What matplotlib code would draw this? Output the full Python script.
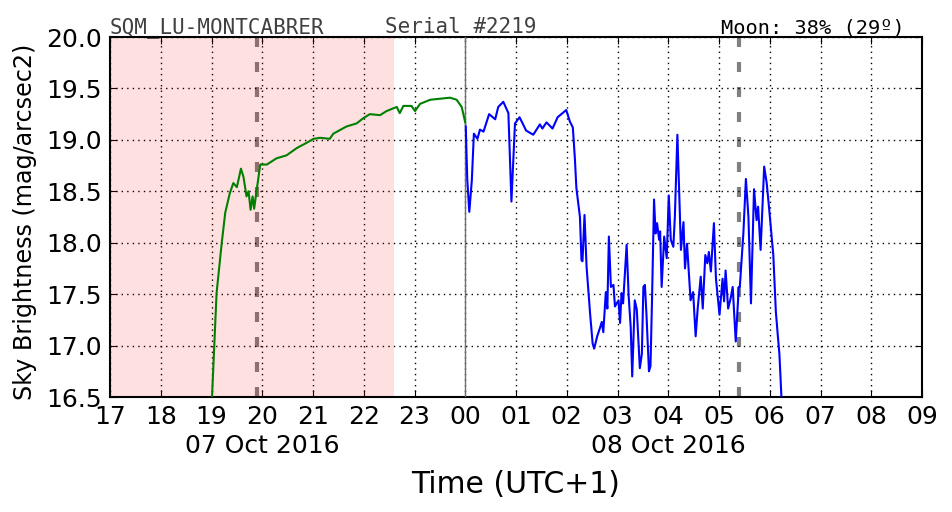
import matplotlib
matplotlib.use("Agg")
import matplotlib.pyplot as plt

# ---- data (hours since 00:00 of 07 Oct 2016, UTC+1) ----
green_t = [19.00, 19.01, 19.10, 19.20, 19.27, 19.36, 19.43, 19.50, 19.58, 19.63, 19.69, 19.73,
           19.77, 19.81, 19.84, 19.89, 19.96, 20.09, 20.28, 20.48, 20.68, 20.87, 21.01, 21.14,
           21.33, 21.40, 21.66, 21.86, 21.99, 22.12, 22.32, 22.45, 22.65, 22.71, 22.78, 22.94,
           23.01, 23.11, 23.31, 23.70, 23.83, 23.93, 24.00]
green_v = [16.40, 16.50, 17.51, 17.99, 18.29, 18.48, 18.58, 18.54, 18.72, 18.64, 18.45, 18.50,
           18.32, 18.45, 18.33, 18.51, 18.76, 18.76, 18.82, 18.85, 18.92, 18.97, 19.01, 19.02,
           19.01, 19.06, 19.13, 19.16, 19.21, 19.25, 19.24, 19.28, 19.32, 19.26, 19.33, 19.33,
           19.28, 19.35, 19.39, 19.41, 19.39, 19.32, 19.17]

blue_t = [24.01, 24.04, 24.08, 24.13, 24.17, 24.24, 24.29, 24.36, 24.47, 24.59, 24.65, 24.75,
          24.85, 24.91, 24.98, 25.07, 25.20, 25.34, 25.47, 25.52, 25.60, 25.72, 25.82, 25.99,
          26.06, 26.12, 26.16, 26.19, 26.26, 26.29, 26.31, 26.35, 26.39, 26.46, 26.51, 26.54,
          26.60, 26.66, 26.69, 26.72, 26.77, 26.80, 26.83, 26.87, 26.92, 26.95, 27.02, 27.05,
          27.08, 27.11, 27.18, 27.22, 27.26, 27.29, 27.34, 27.38, 27.44, 27.48, 27.51, 27.54,
          27.57, 27.62, 27.65, 27.68, 27.72, 27.75, 27.78, 27.82, 27.84, 27.87, 27.92, 27.97,
          28.01, 28.05, 28.10, 28.13, 28.18, 28.22, 28.25, 28.30, 28.33, 28.37, 28.44, 28.49,
          28.54, 28.58, 28.64, 28.68, 28.73, 28.77, 28.80, 28.84, 28.90, 28.94, 29.01, 29.07,
          29.10, 29.13, 29.18, 29.23, 29.27, 29.33, 29.39, 29.41, 29.48, 29.53, 29.58, 29.63,
          29.69, 29.74, 29.77, 29.82, 29.89, 29.94, 29.99, 30.07, 30.12, 30.16, 30.19, 30.23,
          30.26]
blue_v = [19.13, 18.61, 18.30, 18.61, 19.06, 19.01, 19.10, 19.08, 19.25, 19.20, 19.32, 19.37,
          19.26, 18.40, 19.16, 19.22, 19.09, 19.05, 19.15, 19.11, 19.17, 19.11, 19.22, 19.29,
          19.18, 19.12, 18.82, 18.53, 18.25, 17.83, 17.82, 18.27, 17.77, 17.31, 17.02, 16.97,
          17.09, 17.18, 17.23, 17.13, 17.52, 17.36, 18.06, 17.57, 17.59, 17.38, 17.44, 17.22,
          17.51, 17.41, 17.98, 17.48, 17.18, 16.70, 17.44, 17.35, 16.78, 16.92, 17.57, 17.59,
          17.31, 16.75, 16.80, 17.44, 18.42, 18.09, 18.19, 18.03, 18.11, 17.57, 18.06, 17.85,
          18.46, 18.03, 17.96, 18.25, 19.05, 18.42, 17.93, 18.20, 17.75, 17.99, 17.44, 17.52,
          17.09, 17.36, 17.67, 17.36, 17.88, 17.80, 17.91, 17.72, 18.19, 17.65, 17.30, 17.65,
          17.43, 17.73, 17.36, 17.46, 17.57, 17.04, 17.57, 17.57, 18.09, 18.62, 18.25, 17.41,
          18.52, 18.22, 18.35, 17.93, 18.74, 18.58, 18.32, 17.88, 17.33, 17.09, 16.92, 16.50,
          16.40]

hour_ticks = list(range(17, 34))
hour_labels = ["%02d" % (h % 24) for h in hour_ticks]
y_ticks = [16.5, 17.0, 17.5, 18.0, 18.5, 19.0, 19.5, 20.0]
night_span = (17.0, 22.6)
moon_lines = [19.90, 29.40]
midnight = 24.0
date_labels = [(20.0, "07 Oct 2016"), (28.0, "08 Oct 2016")]

plt.rcParams["font.family"] = "DejaVu Sans"

fig = plt.figure(figsize=(9.52, 5.12), dpi=100)
ax = fig.add_axes([110 / 952, 1 - 397 / 512, 812 / 952, 360 / 512])

ax.axvline(moon_lines[0], color="#808080", lw=3, ls=(0, (2.4, 3.6)), zorder=1)
ax.axvline(moon_lines[1], color="#808080", lw=3, ls=(0, (2.4, 3.6)), zorder=1)
ax.axvspan(night_span[0], night_span[1], color="red", alpha=0.12, lw=0, zorder=2)
ax.axvline(midnight, color="#707070", lw=1.0, zorder=3)

ax.plot(green_t, green_v, color="green", lw=1.5, zorder=4)
ax.plot(blue_t, blue_v, color="blue", lw=1.5, zorder=4)

ax.set_xlim(17, 33)
ax.set_ylim(16.5, 20.0)
ax.set_xticks(hour_ticks)
ax.set_xticklabels(hour_labels)
ax.set_yticks(y_ticks)
ax.set_yticklabels(["%.1f" % v for v in y_ticks])
ax.grid(True, color="black", ls=(0, (1, 3)), lw=1.0)
ax.tick_params(direction="in", length=5, top=True, right=True, labelsize=18)
ax.tick_params(axis="x", pad=6)
ax.tick_params(axis="y", pad=6)
for s in ax.spines.values():
    s.set_linewidth(1.5)

for x, lbl in date_labels:
    ax.text(x, -0.135, lbl, transform=ax.get_xaxis_transform(), ha="center", va="center",
            fontsize=18)

fig.text(516 / 952, 1 - 493 / 512, "Time (UTC+1)", fontsize=21.5, ha="center", va="baseline")
fig.text(25 / 952, 1 - 222 / 512, "Sky Brightness (mag/arcsec2)", fontsize=17.2,
         rotation=90, ha="center", va="center")

fig.text(110 / 952, 1 - 33 / 512, "SQM_LU-MONTCABRER", family="DejaVu Sans Mono", fontsize=15,
         color="#404040", ha="left", va="baseline")
fig.text(385 / 952, 1 - 33 / 512, "Serial #2219", family="DejaVu Sans Mono", fontsize=15,
         color="#404040", ha="left", va="baseline")
fig.text(905 / 952, 1 - 33 / 512, "Moon: 38% (29º)", family="DejaVu Sans Mono", fontsize=14.6,
         color="black", ha="right", va="baseline")

fig.savefig("out.png", dpi=100)
